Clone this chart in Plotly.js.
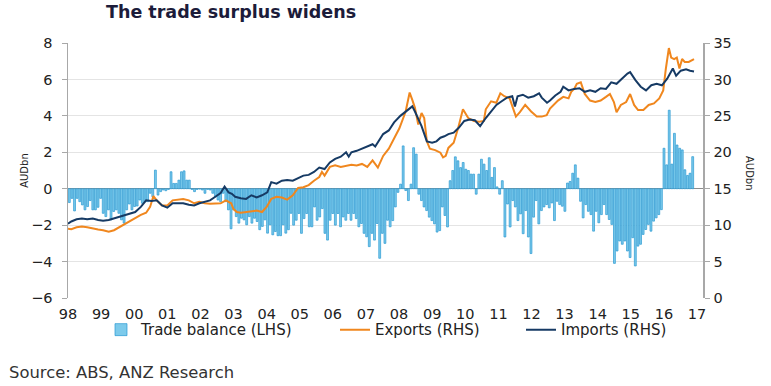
<!DOCTYPE html>
<html>
<head>
<meta charset="utf-8">
<script src="https://cdn.plot.ly/plotly-3.0.1.min.js"></script>
<style>html,body{margin:0;padding:0;background:#fff;}#chart{width:771px;height:386px;}</style>
</head>
<body>
<div id="chart"></div>
<script>
// ---- Data ----
const tickYears = [1998,1999,2000,2001,2002,2003,2004,2005,2006,2007,2008,2009,2010,2011,2012,2013,2014,2015,2016,2017];
const tickLabels = ['98','99','00','01','02','03','04','05','06','07','08','09','10','11','12','13','14','15','16','17'];

// Monthly trade balance, AUD bn (LHS)
const tradeBalance = [
-0.76,-0.53,-1.22,-0.53,-0.71,-0.89,-1.16,-0.98,-0.65,-1.16,-1.16,-1.02,-0.53,-1.35,-1.53,-1.16,-1.71,-1.25,-1.16,-1.35,
-1.71,-1.89,-1.16,-0.84,-1.16,-0.98,-0.95,-0.62,-0.80,-0.71,-0.71,-0.25,-0.44,1.02,-0.35,-0.16,-0.07,-0.11,-0.04,0.93,
0.29,0.29,0.47,0.93,0.98,0.47,0.47,-0.04,-0.16,-0.04,-0.02,-0.07,-0.25,-0.04,-0.07,-0.25,-0.44,-0.62,-0.71,-0.25,
-0.71,-1.16,-2.20,-1.16,-1.53,-1.89,-1.62,-1.71,-1.98,-1.53,-1.89,-1.62,-1.80,-2.25,-2.07,-1.71,-2.44,-1.98,-2.53,-2.35,
-2.58,-2.58,-1.98,-2.44,-2.25,-1.35,
-2.00,-1.73,-1.36,-2.45,-1.64,-1.36,-2.09,-2.09,-1.00,-1.73,-1.55,-1.09,-2.45,-2.82,-1.73,-1.36,-2.00,-1.36,-2.09,-1.55,
-1.73,-1.36,-1.73,-1.36,-1.64,-2.09,-1.91,-2.45,-2.64,-3.18,-2.45,-2.82,-1.91,-3.82,-2.45,-3.00,-1.73,-2.09,
-1.75,-1.00,-0.20,0.25,2.35,-0.10,-0.65,0.25,2.25,1.90,-0.30,-0.65,-1.00,-1.20,-1.56,-1.75,-1.93,-2.38,-2.30,-1.00,
-1.47,-2.10,0.44,1.00,1.75,1.53,1.16,1.44,1.07,1.00,0.80,0.80,-0.30,0.80,1.62,1.35,1.00,1.70,0.62,1.16,
0.10,-0.30,0.44,-2.65,-0.84,-2.10,-0.65,-1.00,-1.75,-1.38,-2.47,-1.20,-2.65,-3.56,-1.56,-0.65,-1.93,-1.20,-1.00,
-0.87,-1.05,-0.78,-1.75,-0.69,-0.87,-0.96,-1.24,0.31,0.40,0.85,1.31,0.58,-0.69,-1.60,-0.87,-1.24,-1.42,-2.33,-1.24,
-1.87,-1.42,-0.87,-1.42,-1.69,-1.96,-4.10,-3.42,-2.87,-3.05,-2.87,-3.42,-3.78,-2.69,-4.24,-3.15,-3.05,-2.51,-2.24,-1.96,
-2.33,-1.78,-1.60,-1.42,-1.15,2.22,1.31,4.31,1.35,3.04,2.40,2.22,2.13,1.04,0.73,0.85,1.76
];
// first and last month of the balance series, in axis-label years
const balanceFirst = 1998.04;
const balanceLast = 2016.87;

// Exports, AUD bn (RHS)
const exportsTime = [
1998.00,1998.10,1998.26,1998.42,1998.58,1998.75,1998.91,1999.06,1999.23,1999.39,1999.55,1999.71,1999.87,2000.03,2000.20,2000.36,
2000.48,2000.58,2000.68,2000.84,2001.00,2001.16,2001.32,2001.48,2001.65,2001.81,2001.97,2002.13,2002.29,2002.45,2002.61,2002.77,
2002.93,2003.00,2003.10,2003.22,2003.38,2003.54,2003.70,2003.86,2004.00,2004.14,2004.30,2004.46,2004.62,2004.79,2004.95,2005.11,
2005.27,2005.43,2005.59,2005.67,2005.75,2005.91,2006.07,2006.24,2006.40,2006.56,2006.72,2006.88,2007.04,2007.20,2007.36,2007.52,
2007.69,2007.85,2008.01,2008.20,2008.32,2008.40,2008.48,2008.58,2008.68,2008.76,2008.84,2008.93,2009.09,2009.25,2009.33,2009.41,
2009.49,2009.65,2009.79,2009.93,2010.09,2010.26,2010.42,2010.56,2010.62,2010.78,2010.94,2011.06,2011.18,2011.34,2011.44,2011.53,
2011.65,2011.81,2011.99,2012.16,2012.31,2012.46,2012.56,2012.68,2012.80,2012.96,2013.12,2013.20,2013.29,2013.37,2013.49,2013.61,
2013.77,2013.93,2014.09,2014.25,2014.37,2014.49,2014.57,2014.70,2014.86,2014.98,2015.10,2015.22,2015.38,2015.54,2015.70,2015.86,
2015.98,2016.06,2016.15,2016.22,2016.31,2016.39,2016.47,2016.55,2016.63,2016.75,2016.83,2016.91
];
const exportsValue = [
9.5,9.45,9.7,9.8,9.7,9.5,9.4,9.3,9.1,9.3,9.7,10.1,10.6,10.9,11.4,11.7,
12.5,14.0,13.4,12.7,12.7,13.4,13.5,13.6,13.4,13.0,13.2,13.0,12.95,12.95,13.0,13.4,
13.0,12.2,11.8,11.7,11.8,12.0,12.0,11.8,12.5,13.6,13.9,13.8,13.5,14.1,15.1,15.2,
15.5,16.1,16.6,17.3,16.8,18.0,18.2,18.0,18.2,18.3,18.2,18.4,18.0,18.9,17.9,19.5,
20.5,21.8,23.3,25.6,28.2,27.2,26.1,23.8,25.4,24.7,21.5,20.5,20.3,19.95,19.3,19.5,
20.6,21.3,23.4,25.9,24.7,24.3,24.2,24.3,25.9,27.0,26.8,28.1,27.7,27.4,26.0,24.9,
25.5,26.5,25.6,24.9,24.9,25.1,26.0,26.5,27.1,27.6,27.4,28.3,28.7,29.4,29.6,28.0,
27.1,26.9,27.1,27.6,28.0,26.9,25.5,26.5,26.9,28.0,26.5,25.8,25.8,26.5,26.7,27.4,
28.5,31.5,34.3,33.0,32.8,33.0,31.5,32.8,32.4,32.4,32.6,32.8
];

// Imports, AUD bn (RHS)
const importsTime = [
1998.00,1998.10,1998.26,1998.42,1998.58,1998.75,1998.91,1999.06,1999.23,1999.39,1999.55,1999.71,1999.87,2000.03,2000.20,2000.36,
2000.52,2000.68,2000.84,2001.00,2001.16,2001.32,2001.48,2001.65,2001.81,2001.97,2002.13,2002.29,2002.45,2002.61,2002.73,2002.85,
2002.95,2003.05,2003.22,2003.38,2003.54,2003.70,2003.86,2004.02,2004.14,2004.30,2004.46,2004.62,2004.79,2004.95,2005.11,2005.27,
2005.43,2005.59,2005.75,2005.91,2006.07,2006.24,2006.40,2006.48,2006.56,2006.72,2006.88,2007.04,2007.20,2007.28,2007.36,2007.52,
2007.69,2007.85,2008.04,2008.20,2008.32,2008.40,2008.48,2008.56,2008.68,2008.84,2009.00,2009.13,2009.25,2009.37,2009.49,2009.65,
2009.81,2009.97,2010.13,2010.29,2010.45,2010.62,2010.78,2010.94,2011.10,2011.26,2011.42,2011.50,2011.58,2011.74,2011.90,2012.07,
2012.23,2012.31,2012.47,2012.56,2012.72,2012.88,2012.96,2013.12,2013.29,2013.45,2013.61,2013.77,2013.93,2014.09,2014.25,2014.41,
2014.57,2014.73,2014.90,2014.98,2015.14,2015.30,2015.46,2015.62,2015.78,2015.94,2016.10,2016.27,2016.37,2016.51,2016.67,2016.79,
2016.91
];
const importsValue = [
10.2,10.5,10.8,10.9,10.8,10.9,10.7,10.6,10.7,10.9,11.1,11.4,11.6,11.8,12.5,13.4,
13.3,13.4,12.7,12.4,13.0,13.0,13.0,12.8,12.7,13.0,13.2,13.4,13.9,14.4,15.3,14.5,
14.3,13.9,13.7,13.6,14.1,13.8,14.1,14.5,15.9,15.7,16.1,16.2,16.1,16.5,16.8,16.9,
17.3,17.9,17.7,18.6,19.1,19.4,20.0,19.4,20.0,20.2,20.5,20.7,21.1,20.8,21.4,22.5,
23.0,24.1,25.0,25.6,26.1,26.3,25.6,24.7,23.6,21.5,21.3,21.5,22.0,22.2,22.5,22.7,
23.4,24.3,24.5,24.4,23.6,24.7,25.6,26.5,27.0,27.5,27.7,26.3,27.7,27.9,27.5,27.7,
28.1,27.5,26.8,27.1,27.8,28.3,29.0,28.5,28.7,28.8,28.3,28.5,28.3,28.8,28.7,29.6,
29.4,30.1,30.8,31.0,29.9,29.0,28.5,29.2,29.4,29.2,30.1,31.5,30.5,31.2,31.4,31.2,
31.1
];

// ---- Build chart ----
const step = (balanceLast - balanceFirst) / (tradeBalance.length - 1);
const balanceTime = tradeBalance.map((_, i) => balanceFirst + i * step);

const FONT = 'DejaVu Sans, Verdana, sans-serif';
const ORANGE = '#F0871E';
const NAVY = '#163A64';

const traces = [
  {
    type: 'bar', name: 'Trade balance (LHS)', x: balanceTime, y: tradeBalance,
    width: step * 0.72, yaxis: 'y', legend: 'legend',
    marker: {color: '#7CCAEB', line: {color: '#2A9AD3', width: 0.7}},
    hoverinfo: 'x+y'
  },
  {
    type: 'scatter', mode: 'lines', name: 'Exports (RHS)', x: exportsTime, y: exportsValue,
    yaxis: 'y2', legend: 'legend2', line: {color: ORANGE, width: 2}
  },
  {
    type: 'scatter', mode: 'lines', name: 'Imports (RHS)', x: importsTime, y: importsValue,
    yaxis: 'y2', legend: 'legend3', line: {color: NAVY, width: 2}
  }
];

const legendBase = {orientation: 'h', yanchor: 'middle', xanchor: 'left', y: -0.125,
  bgcolor: 'rgba(0,0,0,0)', font: {family: FONT, size: 15, color: '#222'}, itemwidth: 30};

const layout = {
  width: 771, height: 386,
  margin: {l: 68, r: 68, t: 43, b: 88},
  paper_bgcolor: '#fff', plot_bgcolor: '#fff',
  font: {family: FONT, size: 14, color: '#222'},
  showlegend: true,
  bargap: 0,
  title: {text: 'The trade surplus widens', xref: 'container', yref: 'container',
    x: 106/771, xanchor: 'left', y: 1 - 12/386, yanchor: 'middle',
    font: {family: FONT, size: 17.5, weight: 'bold', color: '#1c1c3a'}},
  xaxis: {
    range: [1998, 1998 + 635/33.105], tickmode: 'array', tickvals: tickYears, ticktext: tickLabels,
    showgrid: false, zeroline: false, showline: false, ticks: '', ticklabelstandoff: 5,
    tickfont: {family: FONT, size: 14.5, color: '#222'}
  },
  yaxis: {
    range: [-6, 8], dtick: 2, tick0: -6, showgrid: true, gridcolor: '#E4E4E4', gridwidth: 1,
    zeroline: true, zerolinecolor: '#8C8C8C', zerolinewidth: 1.5,
    showline: true, linecolor: '#A8A8A8', linewidth: 1.5,
    ticks: 'outside', ticklen: 5, tickcolor: '#A8A8A8', tickwidth: 1, ticklabelstandoff: 6,
    tickfont: {family: FONT, size: 14.5, color: '#222'},
    title: {text: 'AUDbn', standoff: 0, font: {family: FONT, size: 10, color: '#222'}}
  },
  yaxis2: {
    overlaying: 'y', side: 'right', range: [0, 35], dtick: 5, tick0: 0,
    showgrid: false, zeroline: false, showline: true, linecolor: '#A8A8A8', linewidth: 1.5,
    ticks: 'outside', ticklen: 5, tickcolor: '#A8A8A8', tickwidth: 1, ticklabelstandoff: 1,
    tickfont: {family: FONT, size: 14.5, color: '#222'}
  },
  legend: Object.assign({}, legendBase, {x: (101 - 68)/635}),
  legend2: Object.assign({}, legendBase, {x: (335 - 68)/635}),
  legend3: Object.assign({}, legendBase, {x: (521 - 68)/635}),
  annotations: [
    {text: 'AUDbn', xref: 'paper', yref: 'paper', x: (750 - 68)/635, y: (298 - 173)/255,
      textangle: 90, showarrow: false, xanchor: 'center', yanchor: 'middle',
      font: {family: FONT, size: 10, color: '#222'}},
    {text: 'Source: ABS, ANZ Research', xref: 'paper', yref: 'paper', x: (7 - 68)/635, y: -(372 - 298)/255,
      showarrow: false, xanchor: 'left', yanchor: 'middle',
      font: {family: FONT, size: 16.4, color: '#333'}}
  ]
};

Plotly.newPlot('chart', traces, layout, {staticPlot: true, displayModeBar: false});
</script>
</body>
</html>
